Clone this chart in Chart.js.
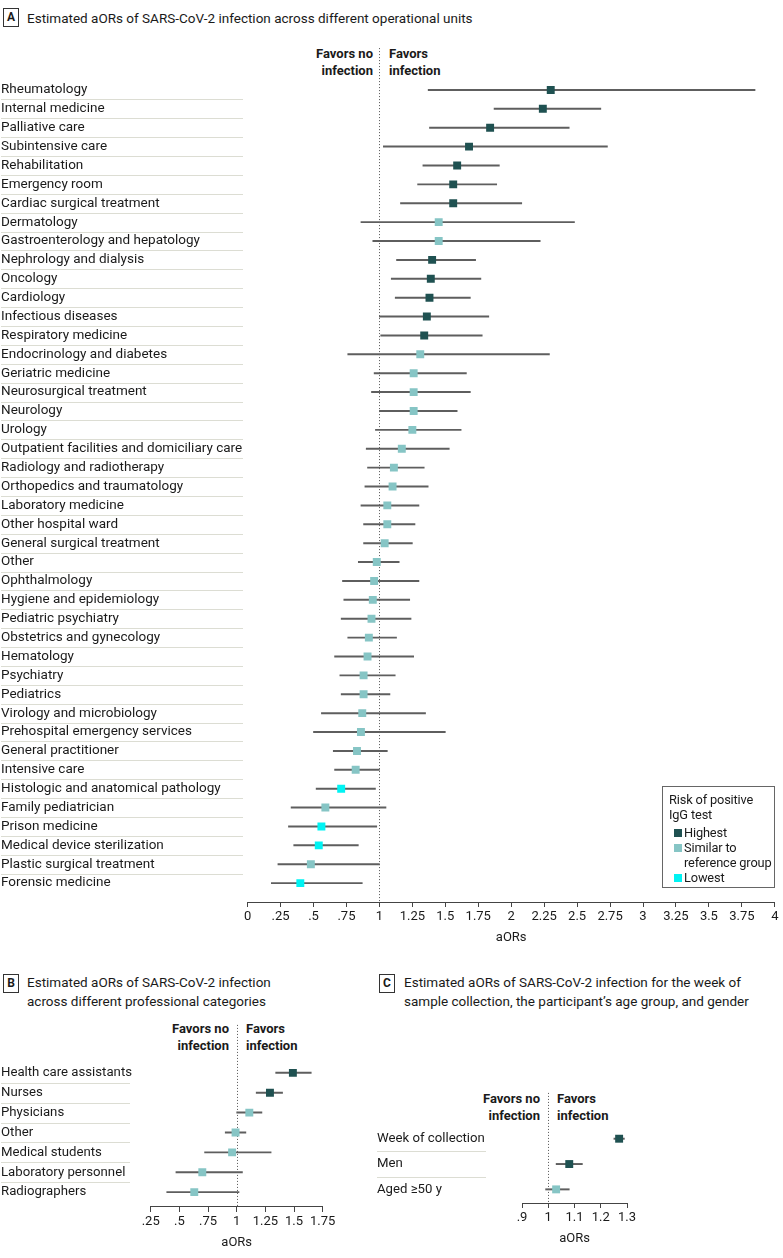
<!DOCTYPE html>
<html>
<head>
<meta charset="utf-8">
<script src="https://cdn.jsdelivr.net/npm/chart.js@4.4.0/dist/chart.umd.min.js"></script>
<style>
  body { margin:0; width:783px; height:1258px; background:#fff; position:relative; overflow:hidden;
         font-family: Roboto, 'Liberation Sans', sans-serif; color:#1a1a1a; }
  canvas { position:absolute; }
  .tag { position:absolute; box-sizing:border-box; width:16px; height:19px; border:1px solid #333;
         font-weight:bold; font-size:12px; line-height:17px; text-align:center; }
  .ttl { position:absolute; font-size:13.5px; line-height:19px; white-space:nowrap; }
  .fav { position:absolute; font-weight:bold; font-size:13px; line-height:17px; white-space:nowrap; }
  .fav.r { text-align:right; }
  #legend { position:absolute; left:662px; top:786px; width:113px; height:102px; box-sizing:border-box;
            border:1px solid #666; padding:5px 0 0 6px; font-size:12.8px; line-height:15px; white-space:nowrap;
            letter-spacing:-0.15px; }
  #legend .it { position:relative; padding-left:10px; margin-left:5px; }
  #legend .it i { position:absolute; left:0; top:4px; width:8px; height:8px; }
</style>
</head>
<body>
<div class="tag" style="left:3px;top:8px">A</div>
<div class="ttl" style="left:27px;top:9px">Estimated aORs of SARS-CoV-2 infection across different operational units</div>
<div class="fav r" style="left:290px;top:45px;width:83px">Favors no<br>infection</div>
<div class="fav" style="left:389px;top:45px">Favors<br>infection</div>

<div class="tag" style="left:3px;top:974px">B</div>
<div class="ttl" style="left:27px;top:973px">Estimated aORs of SARS-CoV-2 infection<br>across different professional categories</div>
<div class="fav r" style="left:150px;top:1020px;width:79px">Favors no<br>infection</div>
<div class="fav" style="left:246px;top:1020px">Favors<br>infection</div>

<div class="tag" style="left:379px;top:974px">C</div>
<div class="ttl" style="left:404px;top:973px">Estimated aORs of SARS-CoV-2 infection for the week of<br>sample collection, the participant’s age group, and gender</div>
<div class="fav r" style="left:460px;top:1090px;width:80px">Favors no<br>infection</div>
<div class="fav" style="left:557px;top:1090px">Favors<br>infection</div>

<canvas id="chartA" width="783" height="912" style="left:0;top:40px"></canvas>
<canvas id="chartB" width="360" height="240" style="left:0;top:1017px"></canvas>
<canvas id="chartC" width="423" height="168" style="left:360px;top:1085px"></canvas>
<div id="legend"></div>

<script>
const FONT = "Roboto, 'Liberation Sans', sans-serif";
const RISK_COLORS = { H:'#1f5151', S:'#86c5c5', L:'#00f3f3' };
const RISK_NAMES = { H:'Highest', S:'Similar to reference group', L:'Lowest' };
const CI_COLOR = '#5e5e5e';
const SEP_COLOR = '#dcddd3';

// A: operational units
const unitsA = ['Rheumatology','Internal medicine','Palliative care','Subintensive care','Rehabilitation',
  'Emergency room','Cardiac surgical treatment','Dermatology','Gastroenterology and hepatology',
  'Nephrology and dialysis','Oncology','Cardiology','Infectious diseases','Respiratory medicine',
  'Endocrinology and diabetes','Geriatric medicine','Neurosurgical treatment','Neurology','Urology',
  'Outpatient facilities and domiciliary care','Radiology and radiotherapy','Orthopedics and traumatology',
  'Laboratory medicine','Other hospital ward','General surgical treatment','Other','Ophthalmology',
  'Hygiene and epidemiology','Pediatric psychiatry','Obstetrics and gynecology','Hematology','Psychiatry',
  'Pediatrics','Virology and microbiology','Prehospital emergency services','General practitioner',
  'Intensive care','Histologic and anatomical pathology','Family pediatrician','Prison medicine',
  'Medical device sterilization','Plastic surgical treatment','Forensic medicine'];
const orA = [2.30,2.24,1.84,1.68,1.59,1.56,1.56,1.45,1.45,1.40,1.39,1.38,1.36,1.34,1.31,1.26,1.26,1.26,1.25,1.17,
  1.11,1.10,1.06,1.06,1.04,0.98,0.96,0.95,0.94,0.92,0.91,0.88,0.88,0.87,0.86,0.83,0.82,0.71,0.59,0.56,0.54,0.48,0.40];
const loA = [1.37,1.87,1.38,1.03,1.33,1.29,1.16,0.86,0.95,1.13,1.09,1.12,1.00,1.01,0.76,0.96,0.94,1.00,0.97,0.90,
  0.91,0.89,0.86,0.88,0.88,0.84,0.72,0.73,0.71,0.76,0.66,0.70,0.71,0.56,0.50,0.65,0.66,0.52,0.33,0.31,0.35,0.23,0.18];
const hiA = [3.85,2.68,2.44,2.73,1.91,1.89,2.08,2.48,2.22,1.73,1.77,1.69,1.83,1.78,2.29,1.66,1.69,1.59,1.62,1.53,
  1.34,1.37,1.30,1.27,1.25,1.15,1.30,1.23,1.24,1.13,1.26,1.12,1.08,1.35,1.50,1.06,1.00,0.97,1.05,0.98,0.84,1.00,0.87];
const riskA = ['H','H','H','H','H','H','H','S','S','H','H','H','H','H','S','S','S','S','S','S',
  'S','S','S','S','S','S','S','S','S','S','S','S','S','S','S','S','S','L','S','L','L','S','L'];
const ticksA = [0,0.25,0.5,0.75,1,1.25,1.5,1.75,2,2.25,2.5,2.75,3,3.25,3.5,3.75,4];

// B: professional categories
const rolesB = ['Health care assistants','Nurses','Physicians','Other','Medical students','Laboratory personnel','Radiographers'];
const orB = [1.49,1.29,1.11,0.99,0.96,0.70,0.63];
const loB = [1.34,1.17,1.00,0.90,0.72,0.47,0.39];
const hiB = [1.65,1.40,1.22,1.08,1.30,1.05,1.02];
const riskB = ['H','H','S','S','S','S','S'];
const ticksB = [0.25,0.5,0.75,1,1.25,1.5,1.75];

// C: week, gender, age
const factorsC = ['Week of collection','Men','Aged ≥50 y'];
const orC = [1.27,1.08,1.03];
const loC = [1.25,1.03,0.99];
const hiC = [1.29,1.13,1.08];
const riskC = ['H','H','S'];
const ticksC = [0.9,1,1.1,1.2,1.3];

Chart.defaults.font.family = FONT;
Chart.defaults.color = '#1a1a1a';

const fmtTick = v => v === 0 ? '0' : String(+v.toFixed(2)).replace(/^0\./, '.');

// dotted line at OR = 1 and the thin rules under the row labels
const forestDecor = {
  id: 'forestDecor',
  beforeDatasetsDraw(chart, args, opts) {
    const { ctx, chartArea, scales: { x, y } } = chart;
    const px = Math.round(x.getPixelForValue(1)) + 0.5;
    ctx.save();
    ctx.lineWidth = 1;
    ctx.strokeStyle = '#555';
    ctx.setLineDash([1, 2]);
    ctx.beginPath(); ctx.moveTo(px, chartArea.top); ctx.lineTo(px, chartArea.bottom); ctx.stroke();
    ctx.setLineDash([]);
    ctx.strokeStyle = SEP_COLOR;
    for (let i = 0; i < opts.rows - 1; i++) {
      const py = Math.round(y.getPixelForValue(i + 0.5)) + 0.5;
      ctx.beginPath(); ctx.moveTo(opts.sepLeft, py); ctx.lineTo(opts.sepRight, py); ctx.stroke();
    }
    ctx.restore();
  }
};

function makeForest(canvasId, labels, or, lo, hi, risk, ticks, box) {
  const ctx = document.getElementById(canvasId);
  return new Chart(ctx, {
    type: 'bar',
    data: {
      labels,
      datasets: [
        { type:'scatter', data: or.map((v, i) => ({ x:v, y:i })), pointStyle:'rect', pointRadius:5.6, pointHoverRadius:5.6,
          backgroundColor: risk.map(r => RISK_COLORS[r]), borderWidth:0, order:1 },
        { type:'bar', data: lo.map((v, i) => ({ x:[v, hi[i]], y:i })), backgroundColor: CI_COLOR,
          barThickness:1.3, order:2 }
      ]
    },
    options: {
      indexAxis: 'y', responsive: false, animation: false,
      layout: { padding: box.pad },
      plugins: { legend:{display:false}, tooltip:{enabled:false},
        forestDecor: { rows: labels.length, sepLeft: box.sep[0], sepRight: box.sep[1] } },
      scales: {
        x: { type:'linear', min: ticks[0], max: ticks[ticks.length - 1], offset:false,
          afterBuildTicks: s => { s.ticks = ticks.map(v => ({ value:v })); },
          afterFit: s => { s.height = 50; },
          ticks: { autoSkip:false, maxRotation:0, padding:2, font:{size:13}, callback: v => fmtTick(v) },
          grid: { drawOnChartArea:false, drawTicks:true, tickLength:5, color:'#444' },
          border: { color:'#444' },
          title: { display:true, text:'aORs', font:{size:13}, padding:{top:6, bottom:6} } },
        y: { type:'linear', reverse:true, min: box.yMin, max: box.yMax, offset:false,
          afterBuildTicks: s => { s.ticks = labels.map((_, i) => ({ value:i })); },
          afterFit: s => { s.width = box.axisW; },
          ticks: { autoSkip:false, crossAlign:'far', padding:0, font:{size:box.labelSize}, callback: v => labels[v] },
          grid: { display:false }, border: { display:false } }
      }
    },
    plugins: [forestDecor]
  });
}

makeForest('chartA', unitsA, orA, loA, hiA, riskA, ticksA,
  { pad:{ left:1, top:5, right:8.2, bottom:0 }, axisW:246.6, yMin:-2.215, yMax:43, sep:[1, 243], labelSize:13.5 });
makeForest('chartB', rolesB, orB, loB, hiB, riskB, ticksB,
  { pad:{ left:1, top:5, right:37.3, bottom:0 }, axisW:149.7, yMin:-2.41, yMax:6.748, sep:[1, 130], labelSize:13.2 });
makeForest('chartC', factorsC, orC, loC, hiC, riskC, ticksC,
  { pad:{ left:17, top:5, right:156, bottom:0 }, axisW:145, yMin:-1.808, yMax:2.538, sep:[17, 126], labelSize:13.2 });

// legend for the risk groups, same colours as the markers
const legendEl = document.getElementById('legend');
legendEl.innerHTML = '<div>Risk of positive<br>IgG test</div><div style="height:3px"></div>' +
  ['H','S','L'].map(k => `<div class="it"><i style="background:${RISK_COLORS[k]}"></i>${
    k === 'S' ? 'Similar to<br>reference group' : RISK_NAMES[k]}</div>`).join('');
</script>
</body>
</html>
